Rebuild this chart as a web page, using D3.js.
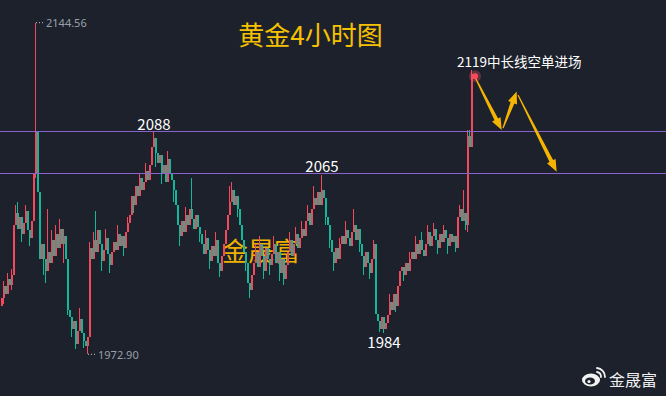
<!DOCTYPE html>
<html>
<head>
<meta charset="utf-8">
<script src="https://cdn.jsdelivr.net/npm/d3@7"></script>
<style>
  body { margin: 0; background: #1c212c; }
  svg { display: block; }
</style>
</head>
<body>
<script>
// gold 4h closes, one per candle
var firstOpen = 1998;
var closes = [
  2002, 2008, 2004, 2012, 2009, 2014, 2040, 2046, 2038, 2044,   // 0-9
  2035, 2041, 2047, 2037, 2033, 2042, 2066, 2088, 2057, 2022,   // 10-19
  2030, 2022, 2016, 2026, 2020, 2032, 2024, 2035, 2028, 2038,   // 20-29
  2030, 2034, 2022, 1996, 1992, 1986, 1990, 1978, 1985, 1991,   // 30-39
  1984, 1980, 1977, 1982, 2028, 2022, 2032, 2026, 2037, 2030,   // 40-49
  2021, 2027, 2033, 2025, 2019, 2026, 2031, 2027, 2035, 2029,   // 50-59
  2034, 2028, 2036, 2041, 2045, 2055, 2050, 2060, 2055, 2064,   // 60-69
  2058, 2062, 2068, 2063, 2071, 2080, 2085, 2077, 2072, 2076,   // 70-79
  2066, 2071, 2062, 2074, 2067, 2063, 2058, 2050, 2040, 2034,   // 80-89
  2042, 2036, 2045, 2040, 2048, 2043, 2038, 2045, 2039, 2035,   // 90-99
  2030, 2025, 2033, 2027, 2021, 2029, 2024, 2032, 2020, 2016,   // 100-109
  2024, 2030, 2037, 2045, 2052, 2058, 2050, 2055, 2048, 2040,   // 110-119
  2032, 2026, 2020, 2010, 2006, 2014, 2020, 2026, 2018, 2030,   // 120-129
  2024, 2016, 2028, 2022, 2019, 2025, 2030, 2020, 2026, 2015,   // 130-139
  2022, 2012, 2019, 2026, 2032, 2024, 2030, 2035, 2028, 2033,   // 140-149
  2038, 2034, 2042, 2046, 2040, 2048, 2054, 2050, 2057, 2050,   // 150-159
  2058, 2054, 2044, 2040, 2032, 2026, 2020, 2028, 2022, 2030,   // 160-169
  2034, 2030, 2037, 2033, 2029, 2036, 2040, 2032, 2038, 2030,   // 170-179
  2024, 2018, 2026, 2020, 2015, 2022, 2030, 1994, 1990, 1986,   // 180-189
  1992, 1986, 1989, 1993, 2000, 1996, 2004, 1998, 2008, 2016,   // 190-199
  2018, 2014, 2020, 2016, 2022, 2026, 2022, 2030, 2025, 2032,   // 200-209
  2027, 2024, 2030, 2036, 2029, 2034, 2038, 2032, 2028, 2035,   // 210-219
  2031, 2037, 2033, 2029, 2035, 2031, 2034, 2028, 2044, 2048,   // 220-229
  2042, 2046, 2040, 2086, 2080, 2118                            // 230-235
];
// visible wicks: [candle, high, low]
var wicks = [
  [1, 2011, 1999], [3, 2015, null], [5, 2017, 2006], [7, 2050, null], [8, 2052, null],
  [10, null, 2031], [12, 2050, null], [14, null, 2029], [17, 2144.56, 2064],
  [21, null, 2014], [22, null, 2010], [23, 2048, null], [25, 2037, null], [27, 2040, null],
  [29, 2043, null], [31, 2038, 2020], [33, null, 1993], [35, null, 1982], [37, null, 1975.5],
  [39, 1997, null], [41, null, 1976], [43, null, 1972.9], [44, 2031, null], [46, 2036, null],
  [47, 2047, null], [50, null, 2016], [52, 2038, null], [54, null, 2015], [58, 2040, null],
  [61, null, 2024], [63, 2044, null], [66, null, 2046], [69, 2067, null], [72, 2072, null],
  [76, 2088.7, null], [77, null, 2070], [80, null, 2061], [83, 2078, null], [86, null, 2052],
  [89, null, 2029], [92, 2049, null], [95, 2064, null], [99, null, 2031], [102, 2037, null],
  [104, null, 2017], [107, 2036, null], [109, null, 2013], [114, 2060, null], [115, 2062, null],
  [118, null, 2044], [122, null, 2016], [124, null, 2002], [127, 2030, null], [129, 2034, null],
  [131, null, 2012], [134, null, 2014], [136, 2034, null], [139, null, 2011], [141, null, 2009],
  [144, 2036, null], [147, 2039, null], [150, 2042, null], [153, 2050, null], [156, 2060, null],
  [160, 2065.5, null], [162, null, 2040], [164, null, 2028], [166, null, 2016], [169, 2033, null],
  [172, 2042, null], [176, 2048, null], [179, null, 2026], [181, null, 2014], [184, null, 2012],
  [186, 2032, null], [189, null, 1984.5], [191, null, 1983.8], [194, 2004, null], [197, null, 1995],
  [201, null, 2011], [204, 2026, null], [207, 2034, null], [210, 2036, null], [213, 2040, null],
  [216, 2041, null], [218, null, 2025], [221, 2040, null], [223, null, 2025], [227, null, 2026],
  [229, 2050, null], [231, 2058, null], [232, null, 2037], [233, 2089, 2036], [234, 2089, null],
  [235, 2120, null]
];
var levels = [2088.5, 2066.8];
var extremes = [
  { i: 17, price: 2144.56, text: "2144.56" },
  { i: 43, price: 1972.9, text: "1972.90" }
];
var marks = [
  { i: 76, price: 2088.5, text: "2088", above: true },
  { i: 160, price: 2066.8, text: "2065", above: true },
  { i: 191, price: 1983.8, text: "1984", above: false }
];
// planned path: [candle, price] pairs
var arrows = [
  [[237, 2116.4], [250.35, 2089.0]],
  [[251, 2090.0], [257.85, 2108.9]],
  [[258.5, 2107.1], [277.85, 2067.4]]
];
var entry = { i: 237, price: 2116.9, text: "2119中长线空单进场" };
var title = "黄金4小时图";
var brand = "金晟富";

var W = 666, H = 396;
var up = "#f24a5c", down = "#0fb99a";
var cjk = "'Noto Sans CJK SC', 'Noto Sans', sans-serif";

var data = closes.map(function(c, i) {
  var o = i ? closes[i - 1] : firstOpen;
  return { i: i, o: o, c: c, h: Math.max(o, c), l: Math.min(o, c) };
});
wicks.forEach(function(w) {
  if (w[1] != null) data[w[0]].h = w[1];
  if (w[2] != null) data[w[0]].l = w[2];
});

var x = d3.scaleLinear().domain([0, closes.length - 1]).range([1, 471]);
var y = d3.scaleLinear().domain([1972.9, 2144.56]).range([354.3, 22.7]);

var svg = d3.select("body").append("svg")
  .attr("width", W).attr("height", H);

svg.append("rect").attr("width", W).attr("height", H).attr("fill", "#1c212c");

// watermark
svg.append("text")
  .attr("x", 222).attr("y", 261)
  .attr("font-family", cjk).attr("font-size", 26)
  .attr("fill", "#eeb000")
  .text(brand);

// candles
var g = svg.append("g").attr("shape-rendering", "crispEdges");
g.selectAll("rect.wick").data(data).enter().append("rect")
  .attr("class", "wick")
  .attr("x", function(d) { return x(d.i); })
  .attr("width", 1)
  .attr("y", function(d) { return y(d.h); })
  .attr("height", function(d) { return Math.max(1, y(d.l) - y(d.h)); })
  .attr("fill", function(d) { return d.c >= d.o ? up : down; });
g.selectAll("rect.body").data(data).enter().append("rect")
  .attr("class", "body")
  .attr("x", function(d) { return x(d.i); })
  .attr("width", 2)
  .attr("y", function(d) { return y(Math.max(d.o, d.c)); })
  .attr("height", function(d) { return Math.max(1, Math.abs(y(d.o) - y(d.c))); })
  .attr("fill", function(d) { return d.c >= d.o ? up : down; });

// horizontal levels
svg.selectAll("line.level").data(levels).enter().append("line")
  .attr("x1", 0).attr("x2", W)
  .attr("y1", function(d) { return Math.round(y(d)) + 0.5; })
  .attr("y2", function(d) { return Math.round(y(d)) + 0.5; })
  .attr("stroke", "#8a62d0").attr("stroke-width", 1);

// high / low markers
extremes.forEach(function(e) {
  var px = x(e.i) + 1, py = y(e.price);
  svg.append("line")
    .attr("x1", px).attr("x2", px + 9).attr("y1", py).attr("y2", py)
    .attr("stroke", "#c8ccd4").attr("stroke-dasharray", "1,2");
  svg.append("text")
    .attr("x", px + 10).attr("y", py + 4.5)
    .attr("font-family", "'Noto Sans', sans-serif").attr("font-size", 11)
    .attr("fill", "#9aa0aa")
    .text(e.text);
});

// price notes
svg.selectAll("text.mark").data(marks).enter().append("text")
  .attr("x", function(d) { return x(d.i) + 1; })
  .attr("y", function(d) { return d.above ? y(d.price) - 1 : y(d.price) + 15; })
  .attr("text-anchor", "middle")
  .attr("font-family", cjk).attr("font-size", 15)
  .attr("fill", "#ffffff")
  .text(function(d) { return d.text; });

// arrows
function arrowPath(a, b) {
  var dx = b[0] - a[0], dy = b[1] - a[1], len = Math.sqrt(dx * dx + dy * dy);
  var ux = dx / len, uy = dy / len, nx = -uy, ny = ux;
  var L = 12, hw = 4.8, w0 = 0.6, w1 = 2;
  var bx = b[0] - ux * L, by = b[1] - uy * L;
  var pts = [
    [a[0] + nx * w0, a[1] + ny * w0],
    [bx + nx * w1, by + ny * w1],
    [bx + nx * hw, by + ny * hw],
    [b[0], b[1]],
    [bx - nx * hw, by - ny * hw],
    [bx - nx * w1, by - ny * w1],
    [a[0] - nx * w0, a[1] - ny * w0]
  ];
  return "M" + pts.map(function(p) { return p[0].toFixed(1) + "," + p[1].toFixed(1); }).join("L") + "Z";
}
svg.selectAll("path.arrow").data(arrows).enter().append("path")
  .attr("d", function(d) {
    return arrowPath([x(d[0][0]), y(d[0][1])], [x(d[1][0]), y(d[1][1])]);
  })
  .attr("fill", "#f4b400");

// entry point
var ex = x(entry.i), ey = y(entry.price);
svg.append("circle").attr("cx", ex).attr("cy", ey).attr("r", 6)
  .attr("fill", "#ff5a6a").attr("opacity", 0.3);
svg.append("circle").attr("cx", ex).attr("cy", ey).attr("r", 3)
  .attr("fill", "#ff4a5c");
svg.append("text")
  .attr("x", x(235) - 14).attr("y", 67)
  .attr("font-family", cjk).attr("font-size", 13.5)
  .attr("fill", "#ffffff")
  .text(entry.text);

// title
svg.append("text")
  .attr("x", 310.5).attr("y", 45)
  .attr("text-anchor", "middle")
  .attr("font-family", cjk).attr("font-size", 26)
  .attr("fill", "#f6c100")
  .text(title);

// weibo badge
var wb = svg.append("g").attr("transform", "translate(591,380)");
wb.append("ellipse").attr("rx", 9).attr("ry", 6.5).attr("fill", "#f2f2f2");
wb.append("ellipse").attr("cx", -1).attr("cy", 1).attr("rx", 5).attr("ry", 3.6).attr("fill", "#1c212c");
wb.append("circle").attr("cx", -2).attr("cy", 1.5).attr("r", 1.6).attr("fill", "#f2f2f2");
wb.append("path").attr("d", "M6,-8 A5,5 0 0 1 10,-3").attr("fill", "none")
  .attr("stroke", "#f2f2f2").attr("stroke-width", 1.8).attr("stroke-linecap", "round");
wb.append("path").attr("d", "M6,-12 A9,9 0 0 1 14,-3").attr("fill", "none")
  .attr("stroke", "#f2f2f2").attr("stroke-width", 1.8).attr("stroke-linecap", "round");
svg.append("text")
  .attr("x", 609).attr("y", 386)
  .attr("font-family", cjk).attr("font-size", 16)
  .attr("fill", "#eeeeee")
  .text(brand);
</script>
</body>
</html>
